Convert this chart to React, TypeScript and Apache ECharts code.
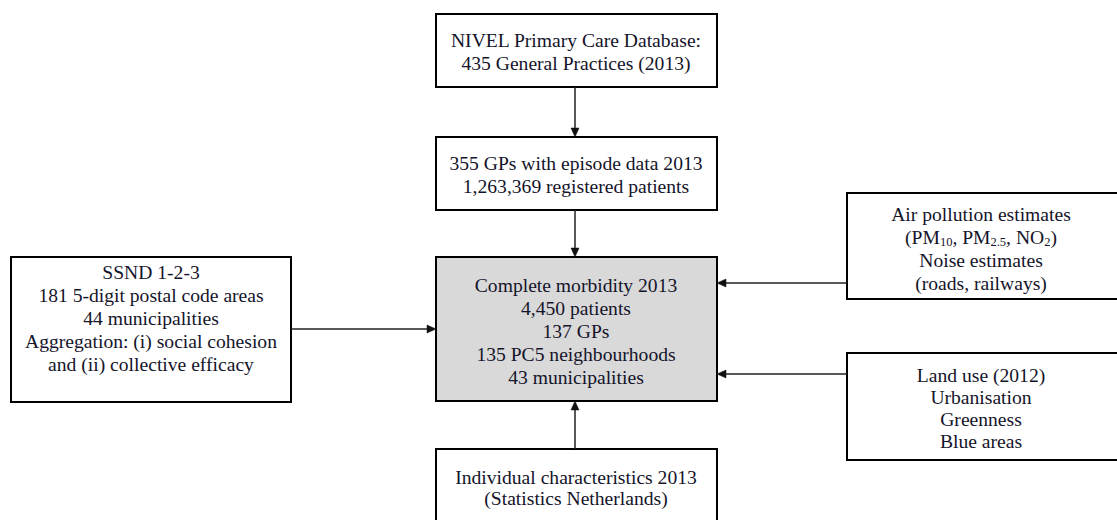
import React, { useEffect, useRef } from "react";
import * as echarts from "echarts";

// ---- Data (texts of the flowchart) ----
const nivelLines = ["NIVEL Primary Care Database:", "435 General Practices (2013)"];
const episodeLines = ["355 GPs with episode data 2013", "1,263,369 registered patients"];
const morbidityLines = [
  "Complete morbidity 2013",
  "4,450 patients",
  "137 GPs",
  "135 PC5 neighbourhoods",
  "43 municipalities",
];
const ssndLines = [
  "SSND 1-2-3",
  "181 5-digit postal code areas",
  "44 municipalities",
  "Aggregation: (i) social cohesion",
  "and (ii) collective efficacy",
];
const airLines = [
  "Air pollution estimates",
  "(PM{s|10}, PM{s|2.5}, NO{s|2})",
  "Noise estimates",
  "(roads, railways)",
];
const landLines = ["Land use (2012)", "Urbanisation", "Greenness", "Blue areas"];
const individualLines = ["Individual characteristics 2013", "(Statistics Netherlands)"];

const FONT = "'Liberation Serif', 'Times New Roman', serif";
const TXT = "#14142a";
const FS = 19.6;

type Box = { x: number; y: number; w: number; h: number; fill: string; lines: string[]; cx: number; y0: number; lh: number };

const boxes: Box[] = [
  { x: 436, y: 14, w: 281, h: 73, fill: "#fff", lines: nivelLines, cx: 576, y0: 40, lh: 23 },
  { x: 436, y: 137, w: 281, h: 73, fill: "#fff", lines: episodeLines, cx: 576, y0: 163, lh: 23 },
  { x: 436, y: 257, w: 281, h: 144, fill: "#d9d9d9", lines: morbidityLines, cx: 576, y0: 285, lh: 23 },
  { x: 11, y: 257, w: 280, h: 145, fill: "#fff", lines: ssndLines, cx: 151, y0: 272, lh: 23 },
  { x: 847, y: 193, w: 280, h: 106, fill: "#fff", lines: airLines, cx: 981, y0: 214, lh: 23 },
  { x: 847, y: 353, w: 280, h: 107, fill: "#fff", lines: landLines, cx: 981, y0: 375, lh: 22 },
  { x: 436, y: 449, w: 281, h: 90, fill: "#fff", lines: individualLines, cx: 576, y0: 477, lh: 21 },
];

// arrows: [x1, y1, x2, y2] (tail -> head)
const arrows: number[][] = [
  [575, 87, 575, 137],
  [575, 210, 575, 257],
  [291, 329, 436, 329],
  [847, 283, 717, 283],
  [847, 374, 717, 374],
  [575, 449, 575, 401],
];

function arrowElements(a: number[]) {
  const [x1, y1, x2, y2] = a;
  const dx = x2 - x1, dy = y2 - y1;
  const len = Math.sqrt(dx * dx + dy * dy);
  const ux = dx / len, uy = dy / len;
  const hl = 9, hw = 4;
  const bx = x2 - ux * hl, by = y2 - uy * hl;
  const px = -uy, py = ux;
  return [
    { type: "line", shape: { x1, y1, x2: bx, y2: by }, style: { stroke: "#222", lineWidth: 1.5 } },
    {
      type: "polygon",
      shape: { points: [[x2, y2], [bx + px * hw, by + py * hw], [bx - px * hw, by - py * hw]] },
      style: { fill: "#111", stroke: "#111", lineWidth: 0.5 },
    },
  ];
}

export default function App() {
  const ref = useRef<HTMLDivElement>(null);
  useEffect(() => {
    if (!ref.current) return;
    const chart = echarts.init(ref.current, undefined, { renderer: "svg" });
    const elements: any[] = [];
    boxes.forEach((b) => {
      elements.push({
        type: "rect",
        shape: { x: b.x, y: b.y, width: b.w, height: b.h },
        style: { fill: b.fill, stroke: "#000", lineWidth: 2 },
      });
    });
    arrows.forEach((a) => elements.push(...arrowElements(a)));
    boxes.forEach((b) => {
      b.lines.forEach((t, i) => {
        elements.push({
          type: "text",
          x: b.cx,
          y: b.y0 + i * b.lh,
          style: {
            text: t,
            fill: TXT,
            font: `${FS}px ${FONT}`,
            fontFamily: FONT,
            fontSize: FS,
            align: "center",
            verticalAlign: "middle",
            rich: {
              s: { fontSize: 12.5, fontFamily: FONT, fill: TXT, verticalAlign: "bottom", lineHeight: 22 },
            },
            lineHeight: 22,
          },
        });
      });
    });
    chart.setOption({
      animation: false,
      backgroundColor: "#fff",
      graphic: { elements },
    });
    return () => chart.dispose();
  }, []);
  return (
    <div
      ref={ref}
      style={{ position: "fixed", left: 0, top: 0, width: 1117, height: 520, background: "#fff" }}
    />
  );
}
